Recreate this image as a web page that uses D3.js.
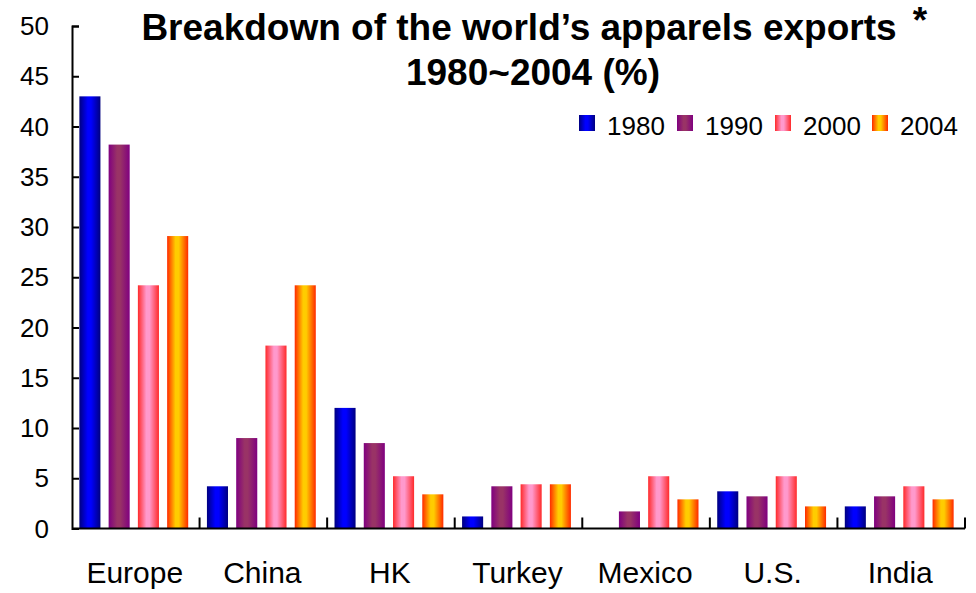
<!DOCTYPE html>
<html lang="en">
  <head>
    <meta charset="UTF-8" />
    <title>Apparels exports</title>
    <style>
      body { margin: 0; background: #fff; }
      svg text { font-family: "Liberation Sans", Arial, sans-serif; fill: #000; }
      .title { font-weight: bold; font-size: 37px; }
      .axis path, .axis line { stroke: #000; stroke-width: 2; }
    </style>
  </head>
  <body>
    <script src="https://cdn.jsdelivr.net/npm/d3@7"></script>
    <script>

    var regions = ["Europe", "China", "HK", "Turkey", "Mexico", "U.S.", "India"];
    var years = ["1980", "1990", "2000", "2004"];
    var v1980 = [43, 4.2, 12, 1.2, 0, 3.7, 2.2];
    var v1990 = [38.2, 9, 8.5, 4.2, 1.7, 3.2, 3.2];
    var v2000 = [24.2, 18.2, 5.2, 4.4, 5.2, 5.2, 4.2];
    var v2004 = [29.1, 24.2, 3.4, 4.4, 2.9, 2.2, 2.9];
    var yTicks = [0, 5, 10, 15, 20, 25, 30, 35, 40, 45, 50];

    var series = [v1980, v1990, v2000, v2004];

    // edge / centre colours for the bar gradients
    var shades = [
      ["#000080", "#0000ff"],
      ["#800080", "#993366"],
      ["#ff2a2a", "#ff99cc"],
      ["#ff2a00", "#ffcc00"]
    ];

    var w = 976, h = 593;
    var margin = { top: 26, right: 11, bottom: 64, left: 72 };

    var svg = d3.select("body").append("svg")
      .attr("width", w)
      .attr("height", h);

    var defs = svg.append("defs");
    shades.forEach(function(s, i) {
      var g = defs.append("linearGradient")
        .attr("id", "grad" + i)
        .attr("x1", "0%").attr("x2", "100%")
        .attr("y1", "0%").attr("y2", "0%");
      g.append("stop").attr("offset", "0%").attr("stop-color", s[0]);
      g.append("stop").attr("offset", "40%").attr("stop-color", s[1]);
      g.append("stop").attr("offset", "55%").attr("stop-color", s[1]);
      g.append("stop").attr("offset", "100%").attr("stop-color", s[0]);
    });

    var x0 = d3.scaleBand()
      .domain(regions)
      .range([margin.left, w - margin.right]);

    var x1 = d3.scaleBand()
      .domain(years)
      .range([0, x0.bandwidth()])
      .paddingInner(0.28)
      .paddingOuter(0.32);

    var y = d3.scaleLinear()
      .domain([0, 50])
      .range([h - margin.bottom - 0.5, margin.top]);

    // bars
    regions.forEach(function(r, ri) {
      var g = svg.append("g")
        .attr("transform", "translate(" + (x0(r) - 2) + ",0)");
      years.forEach(function(yr, yi) {
        var val = series[yi][ri];
        if (val <= 0) return;
        g.append("rect")
          .attr("x", x1(yr))
          .attr("width", x1.bandwidth())
          .attr("y", y(val))
          .attr("height", y(0) - y(val))
          .attr("fill", "url(#grad" + yi + ")");
      });
    });

    // y axis, ticks pointing in
    var yAxis = d3.axisRight(y)
      .tickValues(yTicks)
      .tickSize(7)
      .tickSizeOuter(7)
      .tickFormat("");

    svg.append("g")
      .attr("class", "axis")
      .attr("transform", "translate(" + margin.left + ",0)")
      .call(yAxis);

    svg.append("g")
      .selectAll("text")
      .data(yTicks)
      .enter().append("text")
      .attr("x", 49)
      .attr("y", function(d) { return y(d); })
      .attr("dy", "0.35em")
      .attr("text-anchor", "end")
      .style("font-size", "26px")
      .text(function(d) { return d; });

    // x axis: separators between categories
    var seps = regions.map(function(r) { return x0(r); }).concat([w - margin.right]);
    svg.append("line")
      .attr("class", "axis")
      .attr("x1", margin.left).attr("x2", w - margin.right)
      .attr("y1", y(0)).attr("y2", y(0))
      .attr("stroke", "#000").attr("stroke-width", 2);
    svg.append("g")
      .selectAll("line")
      .data(seps.slice(1))
      .enter().append("line")
      .attr("x1", function(d) { return d; })
      .attr("x2", function(d) { return d; })
      .attr("y1", y(0))
      .attr("y2", y(0) - 11)
      .attr("stroke", "#000")
      .attr("stroke-width", 2);

    svg.append("g")
      .selectAll("text")
      .data(regions)
      .enter().append("text")
      .attr("x", function(d) { return x0(d) + x0.bandwidth() / 2 - 1; })
      .attr("y", 583)
      .attr("text-anchor", "middle")
      .style("font-size", "30px")
      .text(function(d) { return d; });

    // title
    svg.append("text")
      .attr("class", "title")
      .attr("x", 519)
      .attr("y", 40)
      .attr("text-anchor", "middle")
      .text("Breakdown of the world\u2019s apparels exports");
    svg.append("text")
      .attr("class", "title")
      .attr("x", 920)
      .attr("y", 33)
      .attr("text-anchor", "middle")
      .text("*");
    svg.append("text")
      .attr("class", "title")
      .attr("x", 533)
      .attr("y", 85)
      .attr("text-anchor", "middle")
      .text("1980~2004 (%)");

    // legend
    var legendX = [579, 677, 775, 872];
    var legend = svg.append("g");
    years.forEach(function(yr, i) {
      legend.append("rect")
        .attr("x", legendX[i])
        .attr("y", 115)
        .attr("width", 16)
        .attr("height", 16)
        .attr("fill", "url(#grad" + i + ")");
      legend.append("text")
        .attr("x", legendX[i] + 28)
        .attr("y", 135)
        .style("font-size", "26px")
        .text(yr);
    });

    </script>
  </body>
</html>
